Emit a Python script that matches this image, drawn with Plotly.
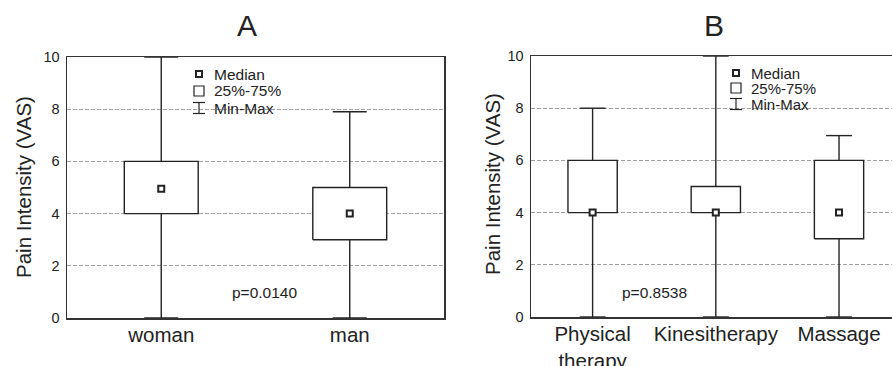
import plotly.graph_objects as go

# ---------------- data ----------------
cats_a = ["woman", "man"]
q1_a = [4, 3]
med_a = [4.95, 4]
q3_a = [6, 5]
min_a = [0, 0]
max_a = [10, 7.9]

cats_b = ["Physical<br>therapy", "Kinesitherapy", "Massage"]
q1_b = [4, 4, 3]
med_b = [4, 4, 4]
q3_b = [6, 5, 6]
min_b = [0, 0, 0]
max_b = [8, 10, 6.95]

ytick_vals = [0, 2, 4, 6, 8, 10]
p_text_a = "p=0.0140"
p_text_b = "p=0.8538"
legend_labels = ["Median", "25%-75%", "Min-Max"]
panel_titles = ["A", "B"]
y_title = "Pain Intensity (VAS)"

# ---------------- style ----------------
W, H = 892, 366
FONT = "Liberation Sans, Arial, sans-serif"
DARK = "#222222"
FRAME = "#333333"
GRID = "#a0a0a0"


def px(x):
    return x / W


def py(y):
    return 1 - y / H


fig = go.Figure()


def add_boxes(q1, med, q3, mn, mx, xa, ya, hw, cw):
    n = len(q1)
    wx, wy, cx, cy = [], [], [], []
    for i in range(n):
        wx += [i, i, None, i, i, None]
        wy += [mn[i], q1[i], None, q3[i], mx[i], None]
        cx += [i - cw, i + cw, None, i - cw, i + cw, None]
        cy += [mn[i], mn[i], None, mx[i], mx[i], None]
    fig.add_trace(go.Scatter(x=wx, y=wy, mode="lines", line=dict(color=DARK, width=1.4),
                             xaxis=xa, yaxis=ya, hoverinfo="skip", showlegend=False))
    fig.add_trace(go.Scatter(x=cx, y=cy, mode="lines", line=dict(color=DARK, width=1.4),
                             xaxis=xa, yaxis=ya, hoverinfo="skip", showlegend=False))
    for i in range(n):
        fig.add_trace(go.Scatter(
            x=[i - hw, i + hw, i + hw, i - hw, i - hw],
            y=[q1[i], q1[i], q3[i], q3[i], q1[i]],
            mode="lines", fill="toself", fillcolor="white",
            line=dict(color=DARK, width=1.4),
            xaxis=xa, yaxis=ya, hoverinfo="skip", showlegend=False))
    fig.add_trace(go.Scatter(
        x=list(range(n)), y=med, mode="markers",
        marker=dict(symbol="square", size=6, color="white", line=dict(color=DARK, width=2)),
        xaxis=xa, yaxis=ya, hoverinfo="skip", showlegend=False, cliponaxis=False))


add_boxes(q1_a, med_a, q3_a, min_a, max_a, "x", "y", 0.196, 0.09)
add_boxes(q1_b, med_b, q3_b, min_b, max_b, "x2", "y2", 0.2, 0.105)

# plot areas (pixel boxes)
A_L, A_R, A_T, A_B = 67, 444, 57, 318
B_L, B_R, B_T, B_B = 531, 892, 56, 317

ax_common = dict(showgrid=False, zeroline=False, ticks="", showline=True, automargin=False,
                 linecolor=FRAME, linewidth=1.5, ticklabelstandoff=-2,
                 tickfont=dict(family=FONT, size=20.5, color=DARK))
ay_common = dict(range=[0, 10], tickvals=ytick_vals, showgrid=True, gridcolor=GRID,
                 griddash="4px,2px", gridwidth=1, zeroline=False, ticks="", automargin=False,
                 showline=True, linecolor=FRAME, linewidth=1.5,
                 tickfont=dict(family=FONT, size=14.5, color=DARK), ticklabelstandoff=3)

fig.update_layout(
    width=W, height=H, margin=dict(l=0, r=0, t=0, b=0, pad=0), autosize=False,
    paper_bgcolor="white", plot_bgcolor="white", showlegend=False,
    xaxis=dict(domain=[px(A_L), px(A_R)], range=[-0.5, 1.5], tickvals=[0, 1],
               ticktext=cats_a, mirror=True, anchor="y", **ax_common),
    yaxis=dict(domain=[py(A_B), py(A_T)], anchor="x", mirror=True, **ay_common),
    xaxis2=dict(domain=[px(B_L), px(B_R)], range=[-0.5, 2.43], tickvals=[0, 1, 2],
                ticktext=cats_b, mirror=True, anchor="y2", **ax_common),
    yaxis2=dict(domain=[py(B_B), py(B_T)], anchor="x2", mirror=False, **ay_common),
)

ann = []
ann.append(dict(x=px(247), y=py(26), text=panel_titles[0]))
ann.append(dict(x=px(714), y=py(26), text=panel_titles[1]))
for a in ann:
    a.update(xref="paper", yref="paper", showarrow=False, xanchor="center", yanchor="middle",
             font=dict(family=FONT, size=30, color=DARK))

for xc, yc in [(23, 187), (492, 184)]:
    ann.append(dict(x=px(xc), y=py(yc), xref="paper", yref="paper", text=y_title,
                    textangle=-90, showarrow=False, xanchor="center", yanchor="middle",
                    font=dict(family=FONT, size=20.5, color=DARK)))

for xl, yc, t in [(230, 292, p_text_a), (620, 292, p_text_b)]:
    ann.append(dict(x=px(xl), y=py(yc), xref="paper", yref="paper", text=t,
                    showarrow=False, xanchor="left", yanchor="middle",
                    font=dict(family=FONT, size=15.5, color=DARK)))

shapes = []


def add_legend(sx, tx, ys, fs):
    for lab, yc in zip(legend_labels, ys):
        ann.append(dict(x=px(tx), y=py(yc), xref="paper", yref="paper", text=lab,
                        showarrow=False, xanchor="left", yanchor="middle",
                        font=dict(family=FONT, size=fs, color=DARK)))
    shapes.append(dict(type="rect", xref="paper", yref="paper",
                       x0=px(sx - 3), x1=px(sx + 3), y0=py(ys[0] + 3), y1=py(ys[0] - 3),
                       line=dict(color=DARK, width=2), fillcolor="white"))
    shapes.append(dict(type="rect", xref="paper", yref="paper",
                       x0=px(sx - 5), x1=px(sx + 5), y0=py(ys[1] + 5), y1=py(ys[1] - 5),
                       line=dict(color=DARK, width=1.2), fillcolor="white"))
    y0, y1 = ys[2] - 5.5, ys[2] + 5.5
    for (xa0, ya0, xa1, ya1) in [(sx, y0, sx, y1), (sx - 6, y0, sx + 6, y0), (sx - 6, y1, sx + 6, y1)]:
        shapes.append(dict(type="line", xref="paper", yref="paper",
                           x0=px(xa0), x1=px(xa1), y0=py(ya0), y1=py(ya1),
                           line=dict(color=DARK, width=1.2)))


add_legend(199, 212, [74, 91, 108], 15.5)
add_legend(736, 749, [73, 88, 104], 15)

fig.update_layout(annotations=ann, shapes=shapes)

fig.write_html(
    "out.html",
    config={"displayModeBar": False, "staticPlot": True},
    post_script="document.body.style.margin='0px';document.body.style.padding='0px';"
                "document.body.style.overflow='hidden';",
)
